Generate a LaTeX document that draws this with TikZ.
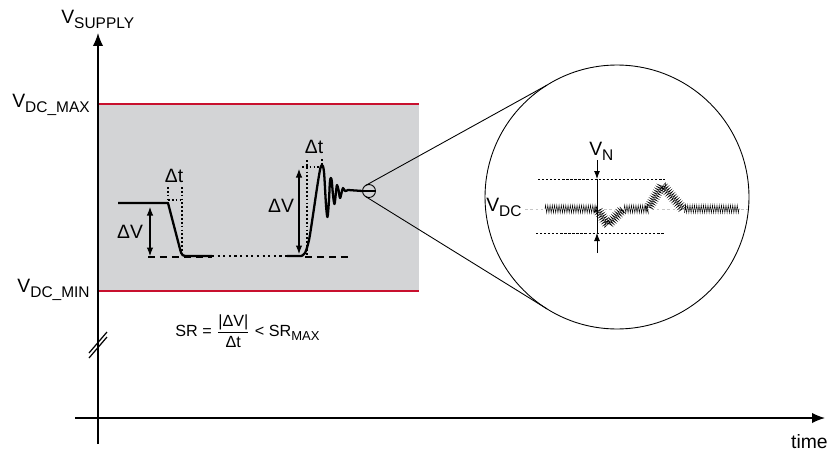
\documentclass[tikz,border=0pt]{standalone}
\usepackage{amsmath}
\usepackage{fontspec}
\setmainfont{Liberation Sans}
\usepackage{tikz}
\usetikzlibrary{arrows.meta,decorations.pathmorphing}

\definecolor{bandgray}{RGB}{211,212,214}
\definecolor{limitred}{RGB}{200,16,46}
\newcommand{\lowsub}[2][8.8]{\raisebox{-0.5ex}{\fontsize{#1}{#1}\selectfont #2}}

\tikzset{
  axis/.style={line width=0.85pt,-{Latex[length=2.6mm,width=2.1mm]}},
  limit/.style={limitred,line width=1.1pt},
  wave/.style={line width=1.3pt,line join=round},
  baseline dash/.style={line width=0.85pt,dash pattern=on 4pt off 2.8pt},
  guide/.style={line width=0.6pt,dash pattern=on 1pt off 1.2pt},
  dimarrow/.style={line width=0.6pt,{Latex[length=1.7mm,width=1.3mm]}-{Latex[length=1.7mm,width=1.3mm]}},
  tiparrow/.style={line width=0.5pt,-{Latex[length=1.6mm,width=1.2mm]}},
  finedash/.style={line width=0.5pt,dash pattern=on 1.3pt off 1pt},
  noise/.style={line width=0.25pt,decorate,decoration={zigzag,segment length=0.045cm,amplitude=0.08cm}},
}

\begin{document}
\begin{tikzpicture}[x=0.02cm,y=-0.02cm,inner sep=0pt,font=\fontsize{11}{13}\selectfont]
  \useasboundingbox (0,0) rectangle (832,453);
  \fill[bandgray] (98,104) rectangle (419,291);
  \draw[limit] (98,104) -- (419,104);
  \draw[limit] (98,291) -- (419,291);

  \coordinate (yfoot) at (98,444);
  \coordinate (ytip) at (98,33);
  \coordinate (xfoot) at (75,418);
  \coordinate (xtip) at (825,418);
  \draw[axis] (yfoot) -- (ytip);
  \draw[axis] (xfoot) -- (xtip);
  \draw[line width=0.7pt] (89,358) -- (107,337);
  \draw[line width=0.7pt] (89,353) -- (107,332);

  \node[anchor=base west] (vsupply) at (61,23) {V\lowsub{SUPPLY}};
  \node[anchor=base east] (vmax) at (90,107) {V\lowsub{DC\_MAX}};
  \node[anchor=base east] (vmin) at (90,292) {V\lowsub{DC\_MIN}};
  \node[anchor=base east] (timelbl) at (828,448) {time};
  \node[anchor=west,font=\fontsize{9.2}{11}\selectfont] (slewrate) at (175,331)
    {SR = $\dfrac{\text{|ΔV|}}{\text{Δt}}$ < SR\lowsub[7.4]{MAX}};

  \node[circle,draw,line width=0.5pt,minimum size=0.26cm,outer sep=0pt] (lens) at (369,191) {};
  \node[circle,draw,line width=0.5pt,minimum size=5.28cm,outer sep=0pt] (zoom) at (617,197) {};
  \draw[line width=0.5pt] (lens.122) -- (zoom.122);
  \draw[line width=0.5pt] (lens.-122) -- (zoom.-122);

  \draw[baseline dash] (148,257) -- (212,257);
  \draw[baseline dash] (305,257) -- (352,257);
  \draw[wave] (118,203) -- (168,203) -- (180,249) .. controls (182,256) .. (189,256) -- (212,256);
  \draw[line width=1.2pt,dotted] (212,256) -- (287,256);
  \draw[wave] (287,256) -- plot[smooth,tension=0.55] coordinates {(301,256) (305,253) (309,240) (313,215)
    (317,188) (320,170) (322,165) (324,172) (326,205) (327.5,217) (329,200) (330,181) (331.5,179)
    (333,195) (334.5,204) (336,192) (337,185) (338.5,190) (340,198) (341.5,193) (343,188) (345,191)
    (348,190)} -- (lens.west);
  \draw[line width=0.6pt] (lens.west) -- (lens.east);

  \draw[guide] (168,187) -- (168,203);
  \draw[guide] (182,187) -- (182,256);
  \draw[guide] (168,200) -- (182,200);
  \draw[guide] (307,160) -- (307,256);
  \draw[guide] (302,167) -- (325,167);
  \draw[guide] (322,159) -- (322,167);
  \coordinate (dvltop) at (150,207);
  \coordinate (dvlbot) at (150,256);
  \coordinate (dvrtop) at (299,169);
  \coordinate (dvrbot) at (299,254);
  \draw[dimarrow] (dvltop) -- (dvlbot);
  \draw[dimarrow] (dvrtop) -- (dvrbot);
  \node (dvleft) at (130,232) {ΔV};
  \node (dtleft) at (174,176) {Δt};
  \node (dvright) at (281,206) {ΔV};
  \node (dtright) at (314,147) {Δt};

  \draw[gray!45,line width=0.5pt,dash pattern=on 1.5pt off 1.5pt] (525,209) -- (748,209);
  \draw[noise] (545,209) -- (597,209) -- (608,225) -- (623,209) -- (648,209) -- (662,185) -- (683,209) -- (740,209);
  \draw[finedash] (538,179) -- (665,179);
  \draw[finedash] (536,233) -- (665,233);
  \coordinate (vntop) at (597,160);
  \coordinate (vnhi) at (597,179);
  \coordinate (vnlo) at (597,233);
  \coordinate (vnbot) at (597,253);
  \draw[line width=0.5pt] (vnhi) -- (vnlo);
  \draw[tiparrow] (vntop) -- (vnhi);
  \draw[tiparrow] (vnbot) -- (vnlo);
  \node[anchor=base west] (vdc) at (486,211) {V\lowsub{DC}};
  \node[anchor=base west] (vnoise) at (589,155) {V\lowsub{N}};
\end{tikzpicture}
\end{document}
